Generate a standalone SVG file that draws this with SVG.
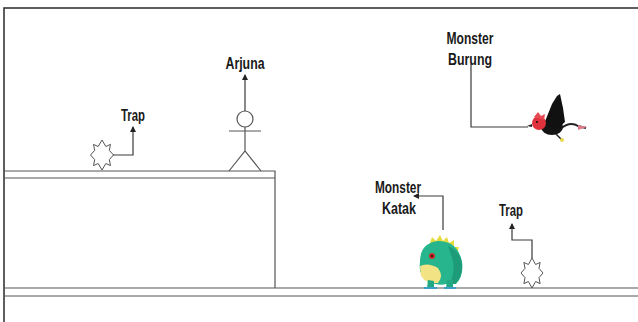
<svg xmlns="http://www.w3.org/2000/svg" width="638" height="322" viewBox="0 0 638 322">
  <style>
    .edge { fill: none; stroke: #3a3a3a; stroke-width: 1.2; }
    .line { fill: none; stroke: #555; stroke-width: 1.2; }
    .frame { fill: none; stroke: #2a2a2a; stroke-width: 1.5; }
    .lbl { font-family: "Liberation Sans", Arial, sans-serif; font-weight: bold; font-size: 16px; fill: #1a1a1a; text-anchor: middle; }
    .star { fill: #fff; stroke: #555; stroke-width: 1; }
    .stick { fill: none; stroke: #555; stroke-width: 1.2; }
  </style>
  <defs>
    <marker id="arrow" markerWidth="6" markerHeight="6" refX="5" refY="3" orient="auto" markerUnits="userSpaceOnUse">
      <path d="M0,0 L6,3 L0,6 Z" fill="#222"/>
    </marker>
  </defs>

  <rect width="638" height="322" fill="#fff"/>

  <!-- outer frame: top and left edges -->
  <g id="frame">
    <path class="frame" d="M4,322 V8 H638"/>
  </g>

  <!-- raised platform on the left -->
  <g id="platform">
    <path class="line" d="M4,171 H275 V288"/>
    <path class="line" d="M4,178 H275"/>
  </g>

  <!-- ground strip -->
  <g id="ground">
    <path class="line" d="M4,288 H638"/>
    <path class="line" d="M4,296 H638"/>
  </g>

  <!-- trap on the platform -->
  <g id="trap1">
    <polygon class="star" points="102,140 105.8,146.5 110.5,144.4 109.3,150.4 113.5,155 109.3,159.6 110.5,165.6 105.8,163.5 102,170 98.2,163.5 93.5,165.6 94.7,159.6 90.5,155 94.7,150.4 93.5,144.4 98.2,146.5"/>
    <text class="lbl" x="133" y="121" textLength="24" lengthAdjust="spacingAndGlyphs">Trap</text>
  </g>

  <!-- player stick figure -->
  <g id="arjuna">
    <circle class="stick" cx="245" cy="119" r="8"/>
    <path class="stick" d="M229,131 H261 M245,127 V151 M229,171 L245,151 L261,171"/>
    <text class="lbl" x="245" y="69" textLength="39" lengthAdjust="spacingAndGlyphs">Arjuna</text>
  </g>

  <!-- flying monster -->
  <g id="burung">
    <text class="lbl" x="470" y="44" textLength="47" lengthAdjust="spacingAndGlyphs">Monster</text>
    <text class="lbl" x="470" y="65" textLength="44" lengthAdjust="spacingAndGlyphs">Burung</text>
    <!-- tail -->
    <path d="M560,129 Q570,121 578,126 L586,128" fill="none" stroke="#222" stroke-width="2"/>
    <path d="M578,125 L587,127 L578,130 Z" fill="#e07a8a"/>
    <!-- body -->
    <ellipse cx="552" cy="127" rx="11" ry="8" fill="#141414"/>
    <!-- wing -->
    <path d="M544,124 L552,104 L557,96 L560,94 L563,108 L565,122 L556,130 Z" fill="#111"/>
    <!-- head -->
    <circle cx="539" cy="123" r="7" fill="#e0323c"/>
    <path d="M534,117 L538,112 L541,116 L545,114 L544,120 Z" fill="#e84a55"/>
    <path d="M532,124 L527,126 L532,127 Z" fill="#222"/>
    <circle cx="537" cy="122" r="1" fill="#111"/>
    <!-- feet -->
    <path d="M556,134 L562,140" stroke="#222" stroke-width="1.5"/>
    <circle cx="562" cy="140" r="2" fill="#e8d84a"/>
  </g>

  <!-- frog monster -->
  <g id="katak">
    <text class="lbl" x="398" y="193" textLength="46" lengthAdjust="spacingAndGlyphs">Monster</text>
    <text class="lbl" x="399" y="214" textLength="34" lengthAdjust="spacingAndGlyphs">Katak</text>
    <!-- spikes -->
    <path d="M430,243 L432,237 L436,241 L440,235 L443,241 L447,237 L449,243 L454,240 L454,247 L459,247 L457,253 Z" fill="#e3dc3c"/>
    <!-- body -->
    <path d="M420,262 Q420,243 438,241 Q458,241 462,262 Q464,276 456,284 L446,284 Q440,286 428,282 Q418,275 420,262 Z" fill="#26b58c"/>
    <!-- darker back -->
    <path d="M448,246 Q462,252 462,266 Q462,278 455,284 L450,283 Q456,270 452,258 Z" fill="#1e9c7a"/>
    <!-- belly -->
    <path d="M420,266 Q428,262 438,268 Q444,276 438,283 Q426,284 421,276 Z" fill="#f2e485"/>
    <!-- legs -->
    <path d="M428,280 L427,288 L434,288 L434,281 Z" fill="#22a882"/>
    <path d="M447,280 L446,288 L453,288 L453,280 Z" fill="#22a882"/>
    <path d="M424,287 H437 V289 H424 Z" fill="#3d9fc4"/>
    <path d="M444,287 H456 V289 H444 Z" fill="#3d9fc4"/>
    <!-- eye -->
    <circle cx="432" cy="256" r="3" fill="#c0302a"/>
    <circle cx="432" cy="256" r="1.2" fill="#5a1010"/>
  </g>

  <!-- trap on the ground -->
  <g id="trap2">
    <polygon class="star" points="532,258 535.6,264.5 540.1,262.4 539,268.4 543,273 539,277.6 540.1,283.6 535.6,281.5 532,288 528.4,281.5 523.9,283.6 525,277.6 521,273 525,268.4 523.9,262.4 528.4,264.5"/>
    <text class="lbl" x="511" y="216" textLength="24" lengthAdjust="spacingAndGlyphs">Trap</text>
  </g>

  <!-- connectors from items to their labels -->
  <g id="connectors">
    <path class="edge" d="M113,155 H133 V127" marker-end="url(#arrow)"/>
    <path class="edge" d="M245,111 V75" marker-end="url(#arrow)"/>
    <path class="edge" d="M528,127 H471 V64"/>
    <path class="edge" d="M443,230 V196 H414" marker-end="url(#arrow)"/>
    <path class="edge" d="M532,258 V240 H512 V224" marker-end="url(#arrow)"/>
  </g>
</svg>
